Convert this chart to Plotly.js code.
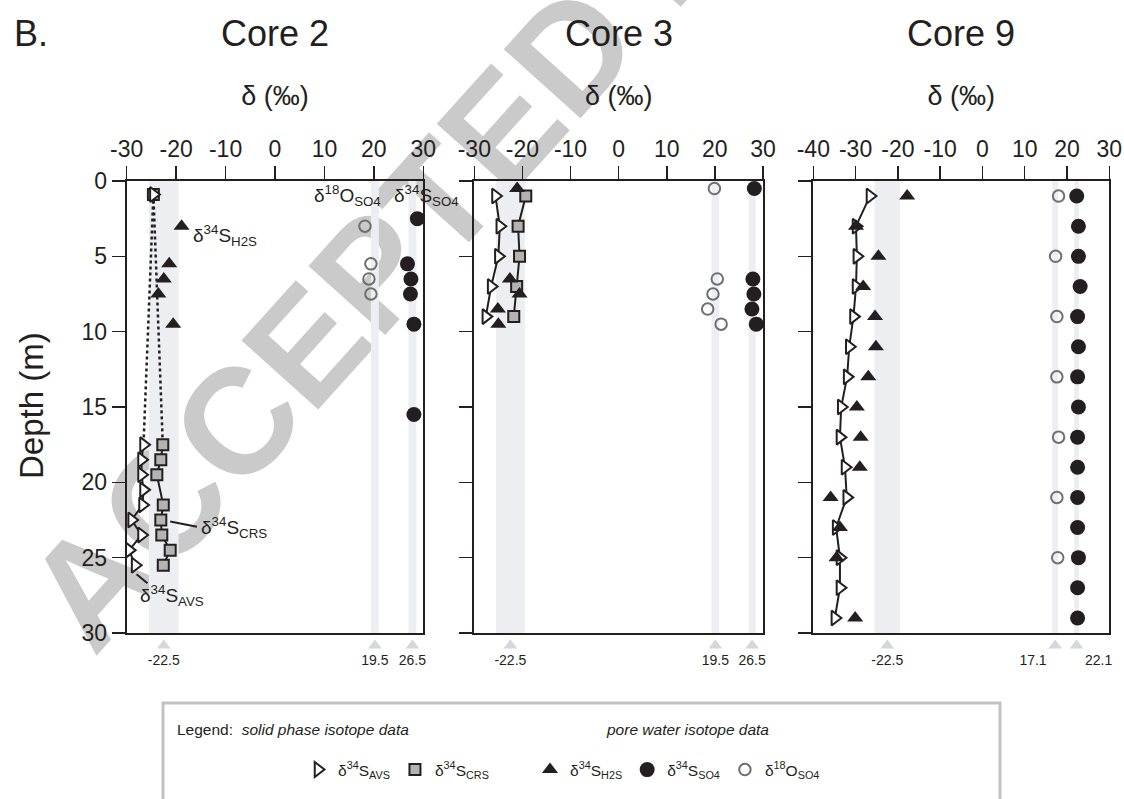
<!DOCTYPE html>
<html><head><meta charset="utf-8">
<script src="https://cdn.plot.ly/plotly-3.0.1.min.js"></script>
<style>
html,body{margin:0;padding:0;background:#fff;width:1124px;height:799px;overflow:hidden;}
#wm{position:absolute;left:680px;top:-70px;transform:translate(-50%,-50%) rotate(-48deg);font:bold 150px "Liberation Sans",Arial,sans-serif;color:#cacaca;white-space:nowrap;line-height:1;}
#chart{position:absolute;left:0;top:0;width:1124px;height:799px;}
</style></head><body>
<div id="wm">ACCEPTED MANUSCRIPT</div>
<div id="chart"></div>
<script>
// ---------- data (δ in ‰, depth in m) ----------
const core2AvsX = [-24.6, -26.6, -27.0, -27.0, -26.6, -26.8, -29.0, -27.0, -29.5, -28.3];
const core2AvsD = [0.9, 17.5, 18.5, 19.5, 20.5, 21.5, 22.5, 23.5, 24.5, 25.5];
const core2CrsX = [-24.6, -22.7, -23.1, -23.9, -22.6, -23.1, -22.9, -21.2, -22.6];
const core2CrsD = [0.9, 17.5, 18.5, 19.5, 21.5, 22.5, 23.5, 24.5, 25.5];
const core2H2sX = [-18.9, -21.4, -22.5, -23.6, -20.6];
const core2H2sD = [3.0, 5.5, 6.5, 7.5, 9.5];
const core2So4X = [28.8, 26.8, 27.5, 27.4, 28.1, 28.1];
const core2So4D = [2.5, 5.5, 6.5, 7.5, 9.5, 15.5];
const core2O18X = [18.2, 19.4, 19.0, 19.4];
const core2O18D = [3.0, 5.5, 6.5, 7.5];

const core3AvsX = [-25.6, -24.7, -25.0, -26.5, -27.6];
const core3AvsD = [1, 3, 5, 7, 9];
const core3CrsX = [-19.3, -20.9, -20.6, -21.2, -21.8];
const core3CrsD = [1, 3, 5, 7, 9];
const core3H2sX = [-21.1, -22.6, -20.6, -25.1, -25.0];
const core3H2sD = [0.5, 6.5, 7.5, 8.5, 9.5];
const core3So4X = [28.2, 27.9, 28.1, 27.7, 28.6];
const core3So4D = [0.5, 6.5, 7.5, 8.5, 9.5];
const core3O18X = [19.9, 20.5, 19.6, 18.5, 21.3];
const core3O18D = [0.5, 6.5, 7.5, 8.5, 9.5];

const core9AvsX = [-26.6, -29.9, -29.7, -29.9, -30.5, -31.5, -32.0, -33.4, -33.7, -32.5, -32.1, -34.6, -33.7, -33.7, -34.9];
const core9AvsD = [1, 3, 5, 7, 9, 11, 13, 15, 17, 19, 21, 23, 25, 27, 29];
const core9H2sX = [-17.8, -29.9, -24.6, -28.2, -25.4, -25.2, -27.0, -29.7, -28.8, -29.0, -35.9, -33.7, -34.5, -30.1];
const core9H2sD = [1, 3, 5, 7, 9, 11, 13, 15, 17, 19, 21, 23, 25, 29];
const core9So4X = [22.3, 22.7, 22.7, 23.1, 22.5, 22.7, 22.5, 22.7, 22.5, 22.5, 22.5, 22.5, 22.7, 22.5, 22.5];
const core9So4D = [1, 3, 5, 7, 9, 11, 13, 15, 17, 19, 21, 23, 25, 27, 29];
const core9O18X = [18.0, 17.3, 17.6, 17.6, 18.0, 17.6, 17.8];
const core9O18D = [1, 5, 9, 13, 17, 21, 25];

// reference bands (low, high) and their labels
const core2BandLo = [-25.5, 19.4, 27.0];
const core2BandHi = [-19.5, 21.0, 28.6];
const core2BandLabels = ['-22.5', '19.5', '26.5'];
const core3BandLo = [-25.5, 19.3, 27.0];
const core3BandHi = [-19.5, 20.9, 28.5];
const core3BandLabels = ['-22.5', '19.5', '26.5'];
const core9BandLo = [-25.5, 16.5, 21.7];
const core9BandHi = [-19.5, 17.9, 22.8];
const core9BandLabels = ['-22.5', '17.1', '22.1'];

// axis ticks
const xTicksA = [-30, -20, -10, 0, 10, 20, 30];
const xTickTextA = ['-30', '-20', '-10', '0', '10', '20', '30'];
const xTicksB = [-40, -30, -20, -10, 0, 10, 20, 30];
const xTickTextB = ['-40', '-30', '-20', '-10', '0', '10', '20', '30'];
const depthTicks = [0, 5, 10, 15, 20, 25, 30];

const coreTitles = ['Core 2', 'Core 3', 'Core 9'];
const seriesNames = ['δ<sup>34</sup>S<sub>AVS</sub>', 'δ<sup>34</sup>S<sub>CRS</sub>', 'δ<sup>34</sup>S<sub>H2S</sub>', 'δ<sup>34</sup>S<sub>SO4</sub>', 'δ<sup>18</sup>O<sub>SO4</sub>'];

// ---------- layout helpers ----------
const FONT = '"Liberation Sans", Arial, Helvetica, sans-serif';
const INK = '#231f20';
const W = 1124, H = 799;
const PTOP = 181, PBOT = 633;
const panels = [
  {l: 126.7, r: 423.3, range: [-30, 30], tv: xTicksA, tt: xTickTextA},
  {l: 474.3, r: 763.0, range: [-30, 30], tv: xTicksA, tt: xTickTextA},
  {l: 813.3, r: 1109.3, range: [-40, 30], tv: xTicksB, tt: xTickTextB}
];
const yDom = [1 - PBOT / H, 1 - PTOP / H];
const stripDom = [1 - 674 / H, 1 - 636 / H];

const layout = {
  width: W, height: H,
  margin: {l: 0, r: 0, t: 0, b: 0, pad: 0},
  paper_bgcolor: 'rgba(0,0,0,0)', plot_bgcolor: 'rgba(0,0,0,0)',
  font: {family: FONT, color: INK},
  showlegend: true,
  shapes: [], annotations: []
};

panels.forEach((p, i) => {
  const sfx = i === 0 ? '' : String(i + 1);
  layout['xaxis' + sfx] = {
    domain: [p.l / W, p.r / W], range: p.range, side: 'top', anchor: 'y' + sfx,
    tickmode: 'array', tickvals: p.tv, ticktext: p.tt,
    ticks: 'outside', ticklen: 13, tickwidth: 1.5, tickcolor: INK,
    showline: true, linecolor: INK, linewidth: 2, mirror: true,
    showgrid: false, zeroline: false, fixedrange: true,
    tickfont: {family: FONT, size: 23, color: INK},
    title: {text: 'δ (‰)', font: {family: FONT, size: 27, color: INK}, standoff: 22}
  };
  layout['yaxis' + sfx] = {
    domain: yDom, range: [30, 0], anchor: 'x' + sfx,
    tickmode: 'array', tickvals: depthTicks, ticktext: depthTicks.map(String),
    ticks: 'outside', ticklen: 13, tickwidth: 1.5, tickcolor: INK,
    showline: true, linecolor: INK, linewidth: 2, mirror: true,
    showgrid: false, zeroline: false, fixedrange: true,
    showticklabels: i === 0,
    tickfont: {family: FONT, size: 23, color: INK}
  };
  // thin strip under each panel for the reference-value markers
  layout['yaxis' + (i + 4)] = {domain: stripDom, range: [1, 0], anchor: 'x' + sfx, visible: false, fixedrange: true};
  layout.annotations.push({
    xref: 'paper', yref: 'paper', x: (p.l + p.r) / 2 / W, y: 1 - 33 / H,
    xanchor: 'center', yanchor: 'middle', showarrow: false,
    text: coreTitles[i], font: {family: FONT, size: 36, color: INK}
  });
});
layout.annotations.push({
  xref: 'paper', yref: 'paper', x: 12 / W, y: 1 - 33 / H, xanchor: 'left', yanchor: 'middle',
  showarrow: false, text: 'B.', font: {family: FONT, size: 36, color: INK}
});
// depth axis title
layout.annotations.push({
  xref: 'paper', yref: 'paper', x: 31 / W, y: 1 - 406 / H, xanchor: 'center', yanchor: 'middle',
  showarrow: false, textangle: -90, text: 'Depth (m)', font: {family: FONT, size: 33, color: INK}
});

const traces = [];
const BAND = '#eceef1';
function addBands(xa, ya, stripY, lo, hi, labels, positions) {
  lo.forEach((v, k) => {
    layout.shapes.push({type: 'rect', xref: xa, yref: ya, x0: v, x1: hi[k], y0: 0, y1: 30,
      fillcolor: BAND, line: {width: 0}, layer: 'below'});
  });
  traces.push({
    type: 'scatter', mode: 'markers+text', xaxis: xa, yaxis: stripY, cliponaxis: false, showlegend: false,
    x: lo.map((v, k) => (v + hi[k]) / 2), y: lo.map(() => 0.25),
    marker: {symbol: 'triangle-up', size: 12, color: '#d5d8db'},
    text: labels, textposition: positions, textfont: {family: FONT, size: 14, color: INK},
    hoverinfo: 'skip'
  });
}

const ST = {
  avs: {symbol: 'triangle-right', size: 13, color: '#ffffff', line: {color: INK, width: 2}},
  crs: {symbol: 'square', size: 11, color: '#b3b3b3', line: {color: INK, width: 2}},
  h2s: {symbol: 'triangle-up', size: 14, color: INK, line: {width: 0}},
  so4: {symbol: 'circle', size: 15, color: INK, line: {width: 0}},
  o18: {symbol: 'circle-open', size: 11.5, color: '#6f6f6f', line: {color: '#6f6f6f', width: 2}}
};

function addCore(xa, ya, d, dotted, leg) {
  const lineStyle = {color: INK, width: 2};
  const solidFrom = dotted ? 1 : 0;
  if (dotted) {
    traces.push({type: 'scatter', mode: 'lines', xaxis: xa, yaxis: ya, showlegend: false,
      x: d.avsX.slice(0, 2), y: d.avsD.slice(0, 2), line: {color: INK, width: 2.5, dash: 'dot'}, hoverinfo: 'skip'});
    traces.push({type: 'scatter', mode: 'lines', xaxis: xa, yaxis: ya, showlegend: false,
      x: d.crsX.slice(0, 2), y: d.crsD.slice(0, 2), line: {color: INK, width: 2.5, dash: 'dot'}, hoverinfo: 'skip'});
  }
  traces.push({type: 'scatter', mode: 'lines', xaxis: xa, yaxis: ya, showlegend: false,
    x: d.avsX.slice(solidFrom), y: d.avsD.slice(solidFrom), line: lineStyle, hoverinfo: 'skip'});
  if (d.crsX) traces.push({type: 'scatter', mode: 'lines', xaxis: xa, yaxis: ya, showlegend: false,
    x: d.crsX.slice(solidFrom), y: d.crsD.slice(solidFrom), line: lineStyle, hoverinfo: 'skip'});
  if (d.crsX) traces.push({type: 'scatter', mode: 'markers', xaxis: xa, yaxis: ya, name: seriesNames[1],
    showlegend: leg, legend: 'legend', x: d.crsX, y: d.crsD, marker: ST.crs});
  traces.push({type: 'scatter', mode: 'markers', xaxis: xa, yaxis: ya, name: seriesNames[0],
    showlegend: leg, legend: 'legend', x: d.avsX, y: d.avsD, marker: ST.avs});
  traces.push({type: 'scatter', mode: 'markers', xaxis: xa, yaxis: ya, name: seriesNames[2],
    showlegend: leg, legend: 'legend2', x: d.h2sX, y: d.h2sD, marker: ST.h2s});
  traces.push({type: 'scatter', mode: 'markers', xaxis: xa, yaxis: ya, name: seriesNames[3],
    showlegend: leg, legend: 'legend2', x: d.so4X, y: d.so4D, marker: ST.so4});
  traces.push({type: 'scatter', mode: 'markers', xaxis: xa, yaxis: ya, name: seriesNames[4],
    showlegend: leg, legend: 'legend2', x: d.o18X, y: d.o18D, marker: ST.o18});
}

addBands('x', 'y', 'y4', core2BandLo, core2BandHi, core2BandLabels, 'bottom center');
addBands('x2', 'y2', 'y5', core3BandLo, core3BandHi, core3BandLabels, 'bottom center');
addBands('x3', 'y3', 'y6', core9BandLo, core9BandHi, core9BandLabels, ['bottom center', 'bottom left', 'bottom right']);

addCore('x', 'y', {avsX: core2AvsX, avsD: core2AvsD, crsX: core2CrsX, crsD: core2CrsD,
  h2sX: core2H2sX, h2sD: core2H2sD, so4X: core2So4X, so4D: core2So4D, o18X: core2O18X, o18D: core2O18D}, true, true);
addCore('x2', 'y2', {avsX: core3AvsX, avsD: core3AvsD, crsX: core3CrsX, crsD: core3CrsD,
  h2sX: core3H2sX, h2sD: core3H2sD, so4X: core3So4X, so4D: core3So4D, o18X: core3O18X, o18D: core3O18D}, false, false);
addCore('x3', 'y3', {avsX: core9AvsX, avsD: core9AvsD,
  h2sX: core9H2sX, h2sD: core9H2sD, so4X: core9So4X, so4D: core9So4D, o18X: core9O18X, o18D: core9O18D}, false, false);

// series labels inside the Core 2 panel
const lblFont = {family: FONT, size: 19, color: INK};
[
  {x: -17.0, y: 3.6, t: seriesNames[2]},
  {x: 7.4, y: 0.95, t: seriesNames[4]},
  {x: 23.6, y: 0.95, t: seriesNames[3]},
  {x: -15.3, y: 23.0, t: seriesNames[1]},
  {x: -27.7, y: 27.5, t: seriesNames[0]}
].forEach(a => layout.annotations.push({xref: 'x', yref: 'y', x: a.x, y: a.y, xanchor: 'left', yanchor: 'middle',
  showarrow: false, text: a.t, font: lblFont}));
layout.shapes.push({type: 'line', xref: 'x', yref: 'y', x0: -21.2, y0: 22.6, x1: -15.8, y1: 22.95, line: {color: INK, width: 2}});
layout.shapes.push({type: 'line', xref: 'x', yref: 'y', x0: -28.0, y0: 26.1, x1: -25.8, y1: 26.7, line: {color: INK, width: 2}});

// legend frame and headings
const LEGSIZE = 15.5;
layout.shapes.push({type: 'rect', xref: 'paper', yref: 'paper', x0: 163 / W, x1: 1000 / W, y0: -0.05, y1: 1 - 703 / H,
  line: {color: '#c2c2c2', width: 3}, fillcolor: 'rgba(0,0,0,0)'});
layout.annotations.push({xref: 'paper', yref: 'paper', x: 175 / W, y: 1 - 729 / H, xanchor: 'left', yanchor: 'middle',
  showarrow: false, text: 'Legend:  <i>solid phase isotope data</i>', font: {family: FONT, size: LEGSIZE, color: INK}});
layout.annotations.push({xref: 'paper', yref: 'paper', x: 604 / W, y: 1 - 729 / H, xanchor: 'left', yanchor: 'middle',
  showarrow: false, text: '<i>pore water isotope data</i>', font: {family: FONT, size: LEGSIZE, color: INK}});
const legCommon = {orientation: 'h', yanchor: 'middle', xanchor: 'left', bgcolor: 'rgba(0,0,0,0)', borderwidth: 0,
  font: {family: FONT, size: LEGSIZE, color: INK}, itemclick: false, itemdoubleclick: false};
layout.legend = Object.assign({x: 298 / W, y: 1 - 770 / H, traceorder: 'reversed'}, legCommon);
layout.legend2 = Object.assign({x: 530 / W, y: 1 - 770 / H, traceorder: 'normal'}, legCommon);

Plotly.newPlot('chart', traces, layout, {displayModeBar: false, staticPlot: true});
</script>
</body></html>
